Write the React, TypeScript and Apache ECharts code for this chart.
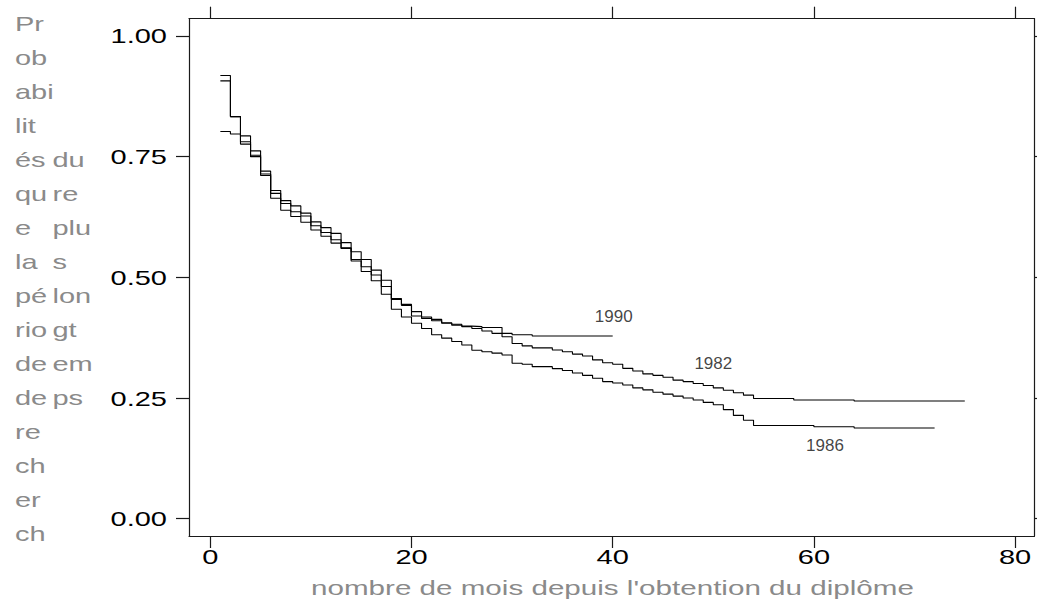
import React, { useEffect, useRef } from "react";
import * as echarts from "echarts";

// ---- data ----
const months1990 = [1, 2, 3, 4, 5, 6, 7, 8, 9, 10, 11, 12, 13, 14, 15, 16, 17, 18, 19, 20, 21, 22, 23, 24, 25, 26, 27, 28, 29, 30, 31, 32, 40];
const surv1990 = [0.918, 0.833, 0.793, 0.762, 0.72, 0.68, 0.659, 0.648, 0.633, 0.615, 0.603, 0.591, 0.572, 0.553, 0.537, 0.515, 0.494, 0.456, 0.444, 0.429, 0.418, 0.413, 0.406, 0.403, 0.399, 0.398, 0.396, 0.396, 0.384, 0.381, 0.381, 0.3785, 0.3785];

const months1982 = [1, 2, 3, 4, 5, 6, 7, 8, 9, 10, 11, 12, 13, 14, 15, 16, 17, 18, 19, 20, 21, 22, 23, 24, 25, 26, 27, 28, 29, 30, 31, 32, 34, 35, 36, 37, 38, 39, 40, 41, 42, 43, 44, 45, 46, 47, 48, 49, 50, 51, 52, 53, 54, 58, 64, 75];
const surv1982 = [0.907, 0.833, 0.781, 0.753, 0.714, 0.674, 0.653, 0.636, 0.627, 0.607, 0.593, 0.578, 0.561, 0.537, 0.522, 0.505, 0.481, 0.454, 0.442, 0.42, 0.415, 0.41, 0.405, 0.401, 0.398, 0.394, 0.389, 0.384, 0.377, 0.363, 0.358, 0.354, 0.3495, 0.346, 0.341, 0.337, 0.329, 0.323, 0.32, 0.3115, 0.306, 0.3, 0.297, 0.293, 0.287, 0.284, 0.28, 0.276, 0.271, 0.266, 0.261, 0.256, 0.249, 0.246, 0.244, 0.244];

const months1986 = [1, 2, 3, 4, 5, 6, 7, 8, 9, 10, 11, 12, 13, 14, 15, 16, 17, 18, 19, 20, 21, 22, 23, 24, 25, 26, 27, 28, 29, 30, 31, 32, 34, 35, 36, 37, 38, 39, 40, 41, 42, 43, 44, 45, 46, 47, 48, 49, 50, 51, 52, 53, 54, 60, 64, 72];
const surv1986 = [0.802, 0.797, 0.776, 0.75, 0.711, 0.664, 0.639, 0.626, 0.614, 0.598, 0.585, 0.571, 0.56, 0.534, 0.512, 0.493, 0.465, 0.434, 0.418, 0.405, 0.394, 0.381, 0.374, 0.367, 0.36, 0.349, 0.346, 0.343, 0.339, 0.322, 0.32, 0.315, 0.311, 0.307, 0.302, 0.297, 0.291, 0.284, 0.281, 0.277, 0.271, 0.267, 0.262, 0.258, 0.254, 0.25, 0.246, 0.241, 0.236, 0.226, 0.214, 0.204, 0.193, 0.1906, 0.188, 0.188];

const yearLabels = ["1990", "1982", "1986"];
const yearLabelX = [40.1, 50.0, 61.1];
const yearLabelY = [0.4195, 0.3215, 0.1517];

const xTicks = [0, 20, 40, 60, 80];
const yTicks = [0, 0.25, 0.5, 0.75, 1];

const xTitle = "nombre de mois depuis l'obtention du diplôme";
const yTitleCol1 = ["Pr", "ob", "abi", "lit", "és", "qu", "e", "la", "pé", "rio", "de", "de", "re", "ch", "er", "ch"];
const yTitleCol2 = ["du", "re", "plu", "s", "lon", "gt", "em", "ps"];
const yTitleCol2StartRow = 4;

const STRETCH = 1.38;
const X_TITLE_STRETCH = 1.41;

export default function App() {
  const ref = useRef<HTMLDivElement>(null);

  useEffect(() => {
    if (!ref.current) return;
    const chart = echarts.init(ref.current, undefined, { renderer: "svg" });

    const axisLineStyle = { color: "#1a1a1a", width: 1.2 };
    const tickLabelFont = "Liberation Sans, Arimo";

    const mkSeries = (name: string, ms: number[], vs: number[]) => ({
      name,
      type: "line",
      step: "end",
      xAxisIndex: 0,
      yAxisIndex: 0,
      symbol: "none",
      showSymbol: false,
      silent: true,
      lineStyle: { color: "#000", width: 1.1 },
      data: ms.map((m, i) => [m, vs[i]]),
    });

    const titleStyle = (text: string) => ({
      text,
      fill: "#8a8a8a",
      fontSize: 21,
      fontFamily: "Liberation Sans",
      align: "left",
      verticalAlign: "middle",
      textAlign: "left",
      textVerticalAlign: "middle",
    });

    const rowY = (i: number) => 23.2 + 34 * i;
    const yTitleGraphics: any[] = [];
    yTitleCol1.forEach((t, i) => {
      yTitleGraphics.push({ type: "text", x: 15, y: rowY(i), scaleX: STRETCH, silent: true, style: titleStyle(t) });
    });
    yTitleCol2.forEach((t, i) => {
      yTitleGraphics.push({
        type: "text",
        x: 52.5,
        y: rowY(i + yTitleCol2StartRow),
        scaleX: STRETCH,
        silent: true,
        style: titleStyle(t),
      });
    });

    const option: any = {
      animation: false,
      backgroundColor: "#fff",
      grid: { left: 189, top: 18.7, right: 2.5, bottom: 71, containLabel: false },
      xAxis: [
        {
          type: "value",
          position: "bottom",
          min: -2.117,
          max: 81.93,
          axisLine: { show: true, onZero: false, lineStyle: axisLineStyle },
          axisTick: { show: true, inside: false, length: 12, customValues: xTicks, lineStyle: axisLineStyle },
          axisLabel: {
            show: true,
            customValues: xTicks,
            margin: 10,
            color: "#000",
            fontSize: 21,
            fontFamily: tickLabelFont,
            formatter: (v: number) => String(v),
          },
          splitLine: { show: false },
        },
        {
          type: "value",
          position: "top",
          min: -2.117,
          max: 81.93,
          axisLine: { show: true, onZero: false, lineStyle: axisLineStyle },
          axisTick: { show: true, inside: false, length: 12, customValues: xTicks, lineStyle: axisLineStyle },
          axisLabel: { show: false },
          splitLine: { show: false },
        },
      ],
      yAxis: [
        {
          type: "value",
          position: "left",
          min: -0.0358,
          max: 1.0358,
          axisLine: { show: true, onZero: false, lineStyle: axisLineStyle },
          axisTick: { show: true, inside: false, length: 13, customValues: yTicks, lineStyle: axisLineStyle },
          axisLabel: {
            show: true,
            customValues: yTicks,
            margin: 22,
            color: "#000",
            fontSize: 21,
            fontFamily: tickLabelFont,
            padding: [9, 0, 0, 0],
            formatter: (v: number) => v.toFixed(2),
          },
          splitLine: { show: false },
        },
        {
          type: "value",
          position: "right",
          min: -0.0358,
          max: 1.0358,
          axisLine: { show: true, onZero: false, lineStyle: axisLineStyle },
          axisTick: { show: true, inside: false, length: 12, customValues: yTicks, lineStyle: axisLineStyle },
          axisLabel: { show: false },
          splitLine: { show: false },
        },
      ],
      series: [
        mkSeries("1990", months1990, surv1990),
        mkSeries("1982", months1982, surv1982),
        mkSeries("1986", months1986, surv1986),
        {
          name: "labels",
          type: "scatter",
          xAxisIndex: 0,
          yAxisIndex: 0,
          symbolSize: 1,
          silent: true,
          itemStyle: { color: "rgba(0,0,0,0)" },
          label: {
            show: true,
            position: "inside",
            color: "#111",
            fontSize: 17,
            fontFamily: "Liberation Sans",
            formatter: (p: any) => p.value[2],
          },
          data: yearLabels.map((t, i) => [yearLabelX[i], yearLabelY[i], t]),
        },
      ],
      graphic: [
        ...yTitleGraphics,
        { type: "text", x: 311, y: 587.5, scaleX: X_TITLE_STRETCH, silent: true, style: titleStyle(xTitle) },
      ],
    };

    chart.setOption(option);

    // widen the axis tick labels horizontally around their anchor (the reference text is stretched)
    const stretchLabels = () => {
      const root = ref.current;
      if (!root) return;
      root.querySelectorAll("text").forEach((el) => {
        const st = el.getAttribute("style") || "";
        if (st.indexOf("Arimo") < 0) return;
        if (el.getAttribute("data-stretched")) return;
        const tr = el.getAttribute("transform") || "";
        let tx = 0;
        const m = tr.match(/matrix\(([^)]+)\)/);
        if (m) {
          const parts = m[1].trim().split(/[\s,]+/).map(Number);
          if (parts.length === 6 && isFinite(parts[4])) tx = parts[4];
        } else {
          const t2 = tr.match(/translate\(([^)]+)\)/);
          if (t2) {
            const parts = t2[1].trim().split(/[\s,]+/).map(Number);
            if (isFinite(parts[0])) tx = parts[0];
          }
        }
        const ax = tx + (parseFloat(el.getAttribute("x") || "0") || 0);
        el.setAttribute("transform", `translate(${ax},0) scale(${STRETCH},1) translate(${-ax},0) ${tr}`);
        el.setAttribute("data-stretched", "1");
      });
    };
    stretchLabels();
    chart.on("finished", stretchLabels);

    return () => {
      chart.dispose();
    };
  }, []);

  return (
    <div
      ref={ref}
      style={{ position: "fixed", left: 0, top: 0, width: 1037, height: 607, background: "#fff" }}
    />
  );
}
